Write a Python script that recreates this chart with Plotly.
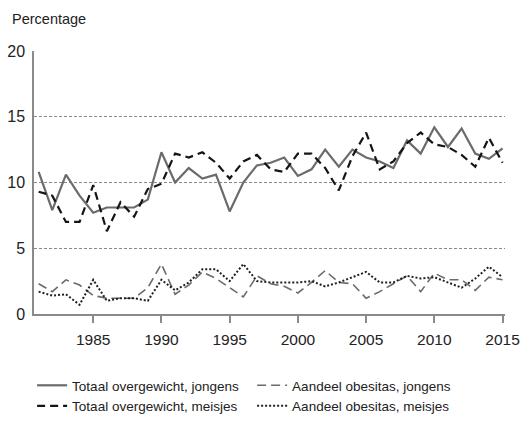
import plotly.graph_objects as go

years = list(range(1981, 2016))

boys_total = [10.8, 7.9, 10.6, 9.0, 7.7, 8.1, 8.1, 8.1, 8.7, 12.3,
              10.0, 11.1, 10.3, 10.6, 7.8, 10.0, 11.3, 11.5, 11.9, 10.5,
              11.0, 12.5, 11.2, 12.5, 11.9, 11.6, 11.1, 13.2, 12.2, 14.2,
              12.7, 14.1, 12.2, 11.8, 12.6]

girls_total = [9.3, 9.0, 7.0, 7.0, 9.8, 6.3, 8.5, 7.4, 9.5, 9.9,
               12.2, 11.9, 12.3, 11.5, 10.3, 11.6, 12.1, 11.0, 10.8, 12.2,
               12.2, 11.1, 9.4, 12.0, 13.8, 11.0, 11.6, 13.0, 13.8, 12.9,
               12.7, 12.1, 11.2, 13.4, 11.5]

boys_obesity = [2.3, 1.7, 2.6, 2.2, 1.4, 1.2, 1.2, 1.2, 2.0, 3.8,
                1.5, 2.2, 3.2, 2.7, 2.0, 1.3, 2.9, 2.3, 2.1, 1.6,
                2.4, 3.3, 2.4, 2.3, 1.2, 1.7, 2.3, 2.9, 1.7, 3.1,
                2.6, 2.6, 1.8, 2.8, 2.6]

girls_obesity = [1.7, 1.4, 1.5, 0.7, 2.6, 1.0, 1.2, 1.2, 1.0, 2.6,
                 1.8, 2.4, 3.4, 3.4, 2.5, 3.8, 2.5, 2.4, 2.4, 2.4,
                 2.5, 2.1, 2.4, 2.8, 3.2, 2.4, 2.4, 2.9, 2.7, 2.8,
                 2.4, 2.0, 2.7, 3.6, 2.8]

names = ["Totaal overgewicht, jongens", "Aandeel obesitas, jongens",
         "Totaal overgewicht, meisjes", "Aandeel obesitas, meisjes"]
x_ticks = [1985, 1990, 1995, 2000, 2005, 2010, 2015]
y_ticks = [0, 5, 10, 15, 20]

FONT = "Liberation Sans, Arial, sans-serif"

fig = go.Figure()
fig.add_trace(go.Scatter(x=years, y=boys_total, mode="lines", name=names[0],
                         line=dict(color="#6b6b6b", width=2.2)))
fig.add_trace(go.Scatter(x=years, y=boys_obesity, mode="lines", name=names[1],
                         line=dict(color="#6b6b6b", width=1.6, dash="9px,5px")))
fig.add_trace(go.Scatter(x=years, y=girls_total, mode="lines", name=names[2],
                         line=dict(color="#151515", width=2.2, dash="8px,5px")))
fig.add_trace(go.Scatter(x=years, y=girls_obesity, mode="lines", name=names[3],
                         line=dict(color="#202020", width=2, dash="2px,2px")))

fig.update_layout(
    width=523, height=430,
    margin=dict(l=34, r=18, t=51, b=116, autoexpand=False),
    paper_bgcolor="white", plot_bgcolor="white",
    font=dict(family=FONT, color="#222"),
    showlegend=True,
    legend=dict(orientation="h", x=-0.004, xanchor="left", y=-0.213, yanchor="top",
                entrywidth=175, font=dict(size=13.5, color="#222"),
                itemwidth=30, tracegroupgap=0),
    annotations=[dict(text="Percentage", xref="paper", yref="paper",
                      x=-0.051, y=1.122, xanchor="left", yanchor="middle",
                      showarrow=False, font=dict(size=14.5, color="#222"))],
)
fig.update_xaxes(range=[1980.66, 2015.18], tickvals=x_ticks,
                 ticktext=[str(v) for v in x_ticks],
                 showgrid=False, zeroline=False,
                 showline=True, linecolor="#8a8a8a", linewidth=1.5,
                 ticks="outside", ticklen=7, tickcolor="#8a8a8a", tickwidth=1.5,
                 ticklabelstandoff=4,
                 tickfont=dict(size=15.5, color="#222"))
fig.update_yaxes(range=[0, 20], tickvals=y_ticks,
                 showgrid=True, gridcolor="#8a8a8a", gridwidth=1, griddash="3px,2px",
                 zeroline=False, showline=True, linecolor="#8a8a8a", linewidth=1.5,
                 ticks="", ticklabelstandoff=4,
                 tickfont=dict(size=16, color="#222"))

fig.write_html("out.html", config={"displayModeBar": False},
               post_script="document.body.style.margin='0';")
